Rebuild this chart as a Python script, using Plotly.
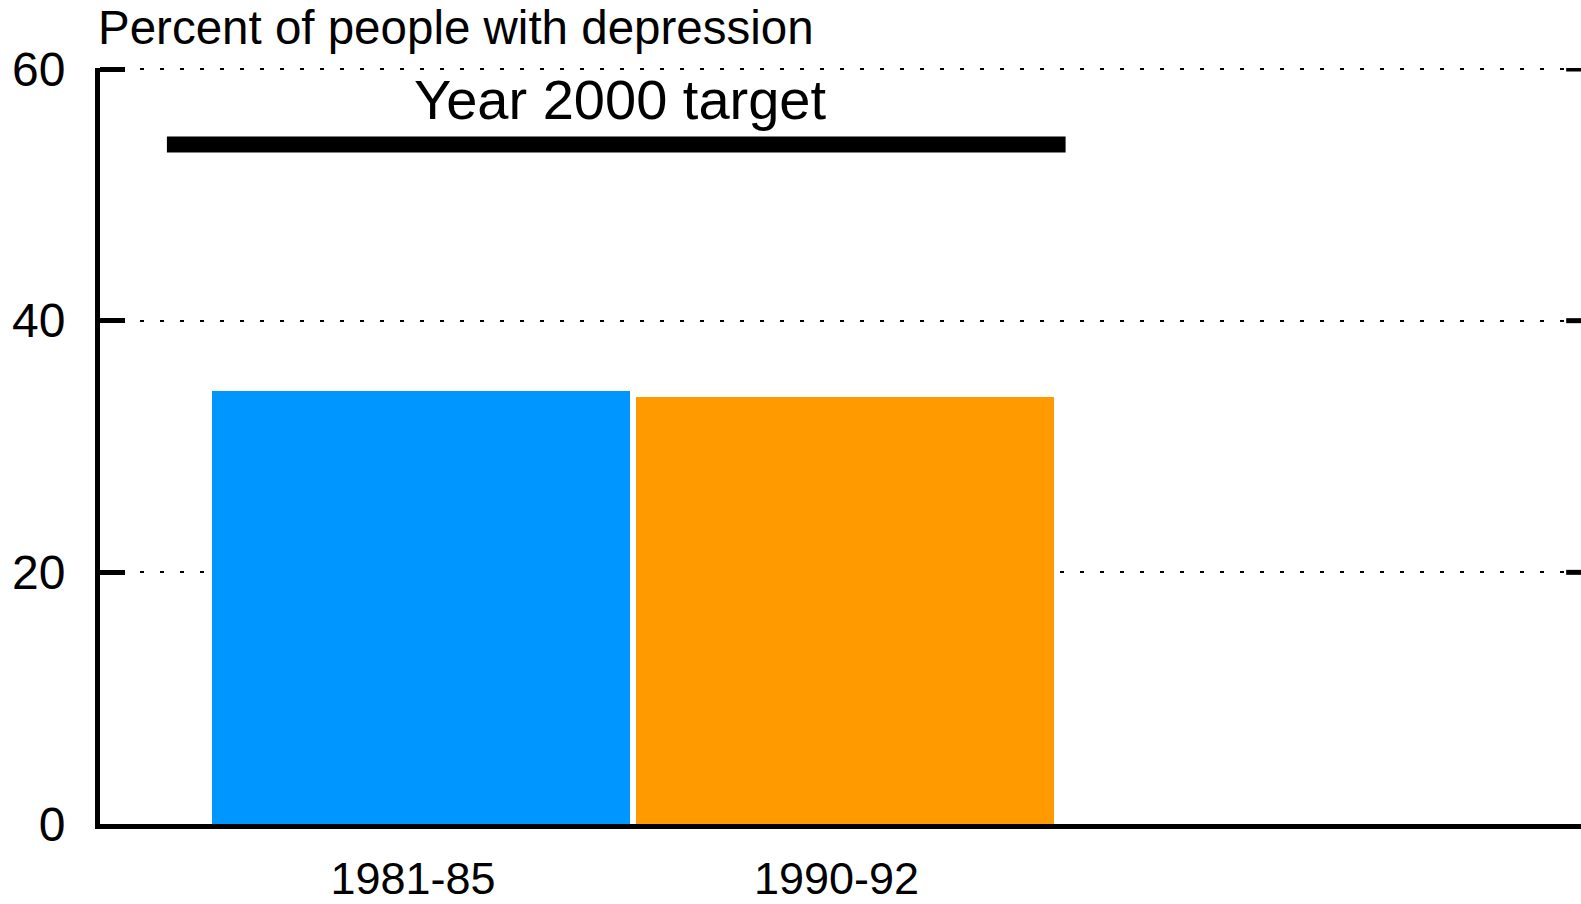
import plotly.graph_objects as go

# ---- data ----
categories = ["1981-85", "1990-92"]
values = [34.4, 33.9]
bar_colors = ["#0096FF", "#FF9A00"]
target_value = 54
target_label = "Year 2000 target"
y_ticks = [0, 20, 40, 60]
y_title = "Percent of people with depression"

FONT = "Liberation Sans, Arial, Helvetica, sans-serif"
xpos = list(range(len(categories)))

fig = go.Figure()
fig.add_trace(go.Bar(
    x=xpos, y=values, width=0.987,
    marker=dict(color=bar_colors, line=dict(width=0)),
    hoverinfo="skip", showlegend=False,
))
# target line
fig.add_trace(go.Scatter(
    x=[-0.6, 1.522], y=[target_value, target_value], mode="lines",
    line=dict(color="black", width=16), hoverinfo="skip", showlegend=False,
))

fig.add_annotation(x=0.47, y=target_value, xref="x", yref="y", text=target_label,
                   showarrow=False, yanchor="bottom", yshift=12,
                   font=dict(family=FONT, size=56, color="black"))
fig.add_annotation(x=0, y=1.054, xref="paper", yref="paper", text=y_title,
                   showarrow=False, xanchor="left", yanchor="middle", xshift=-4,
                   font=dict(family=FONT, size=47.5, color="black"))

# right-side mirror ticks
for v in y_ticks[1:]:
    fig.add_shape(type="line", xref="paper", yref="y", x0=0.99, x1=1.0, y0=v, y1=v,
                  line=dict(color="black", width=5))

fig.update_layout(
    width=1581, height=904,
    margin=dict(l=100, r=0, t=68, b=58),
    plot_bgcolor="white", paper_bgcolor="white",
    font=dict(family=FONT, color="black"),
    bargap=0,
)
fig.update_xaxes(
    range=[-0.758, 2.739], tickvals=xpos, ticktext=categories,
    showgrid=False, zeroline=False, showline=True, linecolor="black", linewidth=5,
    ticks="", tickfont=dict(family=FONT, size=45, color="black"),
    ticklabelshift=-8, ticklabelstandoff=11,
)
fig.update_yaxes(
    range=[0, 60.08], tickvals=y_ticks, ticktext=[str(v) for v in y_ticks],
    showgrid=True, gridcolor="black", gridwidth=2, griddash="4px,16px",
    zeroline=False, showline=True, linecolor="black", linewidth=5,
    ticks="inside", ticklen=25, tickwidth=5, tickcolor="black",
    tickfont=dict(family=FONT, size=48, color="black"),
    ticklabelstandoff=20,
)

post = ("document.documentElement.style.margin='0';document.body.style.margin='0';"
        "document.body.style.overflow='hidden';document.documentElement.style.overflow='hidden';"
        "var d=document.getElementById('{plot_id}');d.style.position='fixed';"
        "d.style.left='0px';d.style.top='0px';")
fig.write_html("out.html", post_script=post, config={"displayModeBar": False})
